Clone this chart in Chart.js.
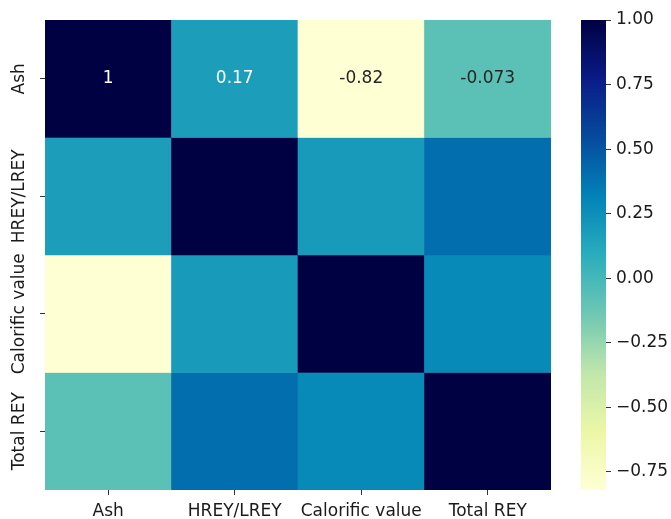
<!DOCTYPE html>
<html>
<head>
<meta charset="utf-8">
<script src="https://cdn.jsdelivr.net/npm/chart.js@4/dist/chart.umd.min.js"></script>
<style>
  html, body { margin: 0; padding: 0; background: #ffffff; }
  #wrap { position: relative; width: 671px; height: 519px; }
  #wrap canvas { position: absolute; left: 0; top: 0; }
</style>
</head>
<body>
<div id="wrap">
  <canvas id="heat" width="671" height="519"></canvas>
  <canvas id="cbar" width="671" height="519"></canvas>
</div>
<script>
// Variables of the correlation matrix (rows top to bottom, columns left to right)
const rowLabels = ['Ash', 'HREY/LREY', 'Calorific value', 'Total REY'];
const colLabels = ['Ash', 'HREY/LREY', 'Calorific value', 'Total REY'];

// Pearson correlation coefficients, one row per variable
const corrAsh        = [1, 0.17, -0.82, -0.073];
const corrHreyLrey   = [0.17, 1, 0.19, 0.40];
const corrCalorific  = [-0.82, 0.19, 1, 0.28];
const corrTotalRey   = [-0.073, 0.40, 0.28, 1];

// Only the first row carries printed coefficients
const annotatedRows = [0];

// Colour bar ticks
const colorbarTicks = [-0.75, -0.5, -0.25, 0, 0.25, 0.5, 0.75, 1];

const matrix = [corrAsh, corrHreyLrey, corrCalorific, corrTotalRey];
const vmin = Math.min(...matrix.flat());
const vmax = Math.max(...matrix.flat());

// Yellow-green-blue ramp (light to dark)
const ramp = [
  [255, 255, 212], [235, 247, 167], [192, 230, 171], [111, 199, 179],
  [42, 173, 189], [1, 131, 184], [7, 74, 157], [10, 27, 135], [0, 1, 67]
];
function rampRGB(t) {
  t = Math.max(0, Math.min(1, t));
  const pos = t * (ramp.length - 1);
  const i = Math.min(ramp.length - 2, Math.floor(pos));
  const f = pos - i;
  return ramp[i].map((c, k) => Math.round(c + (ramp[i + 1][k] - c) * f));
}
function norm(v) { return (v - vmin) / (vmax - vmin); }
function colorFor(v) { const c = rampRGB(norm(v)); return `rgb(${c[0]},${c[1]},${c[2]})`; }
function luminance(v) {
  const lin = rampRGB(norm(v)).map(c => {
    c /= 255;
    return c <= 0.03928 ? c / 12.92 : Math.pow((c + 0.055) / 1.055, 2.4);
  });
  return 0.2126 * lin[0] + 0.7152 * lin[1] + 0.0722 * lin[2];
}
function fmtCell(v) { return String(parseFloat(v.toPrecision(2))); }
function fmtBar(v) { return v.toFixed(2).replace('-', '\u2212'); }

const FONT = "'DejaVu Sans', 'Liberation Sans', sans-serif";
Chart.defaults.font.family = FONT;
Chart.defaults.font.size = 17;
Chart.defaults.color = '#1a1a1a';

// Printed coefficients in the cells
const cellLabels = {
  id: 'cellLabels',
  afterDatasetsDraw(chart) {
    const ctx = chart.ctx;
    ctx.save();
    ctx.font = `17px ${FONT}`;
    ctx.textAlign = 'center';
    ctx.textBaseline = 'middle';
    annotatedRows.forEach(r => {
      const meta = chart.getDatasetMeta(r);
      matrix[r].forEach((v, c) => {
        const el = meta.data[c];
        ctx.fillStyle = luminance(v) > 0.408 ? '#262626' : '#ffffff';
        ctx.fillText(fmtCell(v), el.x, (el.y + el.base) / 2);
      });
    });
    ctx.restore();
  }
};

// Row names, written vertically beside the tick marks
const rowNames = {
  id: 'rowNames',
  afterDraw(chart) {
    const ctx = chart.ctx;
    const ys = chart.scales.y;
    ctx.save();
    ctx.font = `17px ${FONT}`;
    ctx.fillStyle = '#1a1a1a';
    ctx.textAlign = 'center';
    ctx.textBaseline = 'middle';
    rowLabels.forEach((name, r) => {
      ctx.save();
      ctx.translate(20, ys.getPixelForValue(r + 0.5));
      ctx.rotate(-Math.PI / 2);
      ctx.fillText(name, 0, 0);
      ctx.restore();
    });
    ctx.restore();
  }
};

new Chart(document.getElementById('heat'), {
  type: 'bar',
  data: {
    labels: colLabels,
    datasets: matrix.map((vals, r) => ({
      label: rowLabels[r],
      data: vals.map(() => 1),
      backgroundColor: vals.map(colorFor),
      borderWidth: 0,
      barPercentage: 1,
      categoryPercentage: 1
    }))
  },
  options: {
    responsive: false,
    animation: false,
    layout: { padding: { left: 0, right: 120, top: 20, bottom: 0 } },
    plugins: { legend: { display: false }, tooltip: { enabled: false } },
    scales: {
      x: {
        type: 'category',
        stacked: true,
        grid: { display: true, drawOnChartArea: false, drawTicks: true, tickLength: 5, offset: false, color: '#333333' },
        border: { display: false },
        ticks: { padding: 6, maxRotation: 0, autoSkip: false, color: '#1a1a1a' },
        afterFit(s) { s.height = 29; }
      },
      y: {
        type: 'linear',
        stacked: true,
        min: 0,
        max: rowLabels.length,
        reverse: true,
        afterBuildTicks(s) { s.ticks = rowLabels.map((_, i) => ({ value: i + 0.5 })); },
        ticks: { display: false },
        grid: { display: true, drawOnChartArea: false, drawTicks: true, tickLength: 5, color: '#333333' },
        border: { display: false },
        afterFit(s) { s.width = 45; }
      }
    }
  },
  plugins: [cellLabels, rowNames]
});

// Colour bar
new Chart(document.getElementById('cbar'), {
  type: 'bar',
  data: {
    labels: [''],
    datasets: [{
      data: [[vmin, vmax]],
      backgroundColor(ctx) {
        const area = ctx.chart.chartArea;
        if (!area) return 'rgba(0,0,0,0)';
        const g = ctx.chart.ctx.createLinearGradient(0, area.bottom, 0, area.top);
        ramp.forEach((c, i) => g.addColorStop(i / (ramp.length - 1), `rgb(${c[0]},${c[1]},${c[2]})`));
        return g;
      },
      borderWidth: 0,
      barPercentage: 1,
      categoryPercentage: 1
    }]
  },
  options: {
    responsive: false,
    animation: false,
    layout: { padding: { left: 581, right: 0, top: 20, bottom: 29 } },
    plugins: { legend: { display: false }, tooltip: { enabled: false } },
    scales: {
      x: { display: false },
      y: {
        position: 'right',
        min: vmin,
        max: vmax,
        afterBuildTicks(s) { s.ticks = colorbarTicks.map(v => ({ value: v })); },
        ticks: { callback: v => fmtBar(v), padding: 5, color: '#1a1a1a' },
        grid: { display: true, drawOnChartArea: false, drawTicks: true, tickLength: 5, color: '#333333' },
        border: { display: false },
        afterFit(s) { s.width = 65; }
      }
    }
  }
});
</script>
</body>
</html>
